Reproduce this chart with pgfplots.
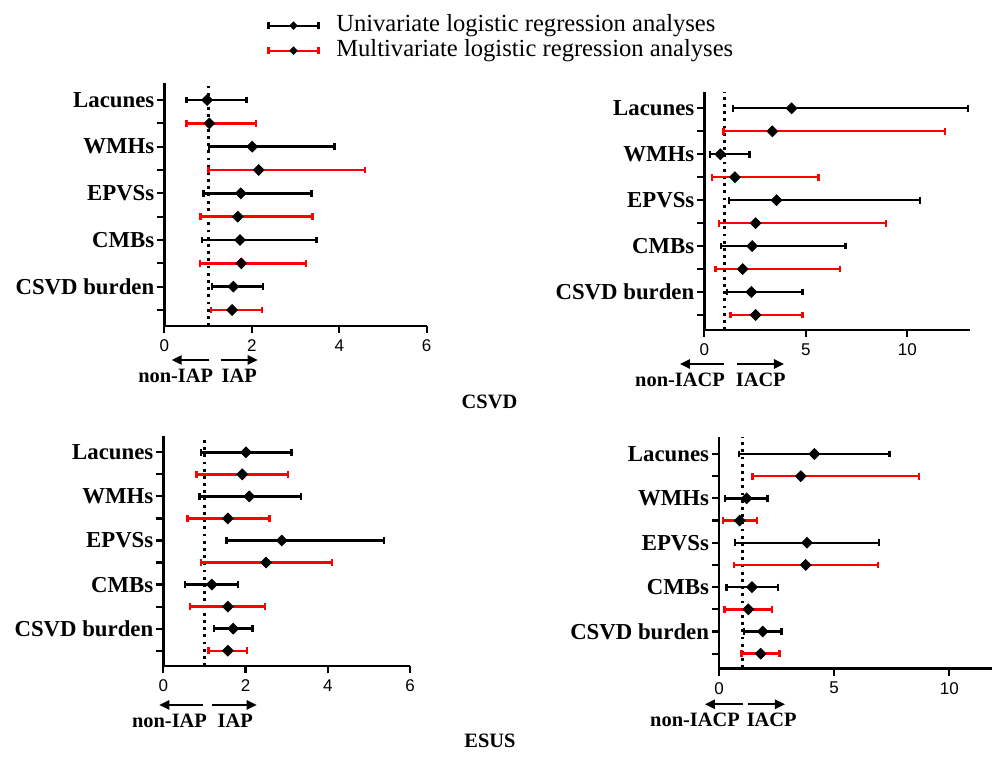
\documentclass[border=0pt]{standalone}
\usepackage{fontspec}
\setmainfont{Liberation Serif}
\setsansfont{Liberation Sans}
\usepackage{pgfplots}
\pgfplotsset{compat=1.18}
\usepackage{pgfplotstable}
\usetikzlibrary{arrows.meta}

% y: 10 = Lacunes (univariate) ... 1 = CSVD burden (multivariate)
% or = odds ratio, lo/hi = 95% CI
\pgfplotstableread{
y  or   lo   hi
10 0.98 0.51 1.88
8  2.01 1.02 3.89
6  1.75 0.90 3.37
4  1.73 0.86 3.48
2  1.58 1.09 2.25
}\csvdIapUni
\pgfplotstableread{
y  or   lo   hi
9  1.03 0.51 2.09
7  2.16 1.01 4.59
5  1.68 0.83 3.39
3  1.76 0.81 3.24
1  1.55 1.07 2.24
}\csvdIapMulti
\pgfplotstableread{
y  or   lo   hi
10 4.30 1.40 13.00
8  0.79 0.28 2.22
6  3.56 1.22 10.62
4  2.36 0.82 6.95
2  2.32 1.12 4.84
}\csvdIacpUni
\pgfplotstableread{
y  or   lo   hi
9  3.35 0.94 11.86
7  1.51 0.39 5.63
5  2.53 0.71 8.95
3  1.89 0.56 6.68
1  2.53 1.30 4.84
}\csvdIacpMulti
\pgfplotstableread{
y  or   lo   hi
10 2.01 0.91 3.12
8  2.09 0.88 3.35
6  2.88 1.54 5.37
4  1.18 0.53 1.82
2  1.70 1.23 2.17
}\esusIapUni
\pgfplotstableread{
y  or   lo   hi
9  1.92 0.81 3.04
7  1.57 0.59 2.58
5  2.50 0.92 4.10
3  1.57 0.65 2.47
1  1.57 1.10 2.04
}\esusIapMulti
\pgfplotstableread{
y  or   lo   hi
10 4.14 0.87 7.40
8  1.20 0.27 2.10
6  3.82 0.69 6.95
4  1.43 0.32 2.56
2  1.90 1.09 2.72
}\esusIacpUni
\pgfplotstableread{
y  or   lo   hi
9  3.55 1.45 8.68
7  0.90 0.17 1.65
5  3.76 0.64 6.89
3  1.27 0.23 2.29
1  1.81 0.97 2.62
}\esusIacpMulti

\tikzset{
  uni/.style={black, only marks, mark=square*, mark size=1.9bp,
    mark options={rotate=45, fill=black, draw=black}},
  multi/.style={red, only marks, mark=square*, mark size=1.9bp,
    mark options={rotate=45, fill=black, draw=black}},
  refline/.style={black, line width=1.5bp, dash pattern=on 1.4bp off 2.2bp},
  arr/.style={line width=1bp, -{Triangle[length=5bp, width=4.6bp]}},
  lbl/.style={font=\bfseries\fontsize{10.2bp}{12bp}\selectfont, inner sep=0pt, anchor=base},
}

\pgfplotsset{
  table/ci/.style={x=or, y=y,
    x error plus expr=\thisrow{hi}-\thisrow{or},
    x error minus expr=\thisrow{or}-\thisrow{lo}},
  forest/.style={
    scale only axis, clip=false,
    axis lines=left, axis line style={-, line width=1.3bp},
    tick align=outside, major tick length=3.6bp,
    tick style={line width=1.1bp, black},
    ytick={1,...,10},
    yticklabels={,CSVD burden,,CMBs,,EPVSs,,WMHs,,Lacunes},
    yticklabel style={font=\bfseries\fontsize{11.4bp}{13bp}\selectfont, inner sep=1.2bp},
    xticklabel style={font=\sffamily\fontsize{8.5bp}{10bp}\selectfont, inner sep=3.2bp},
    /pgf/number format/assume math mode=true,
    xmin=0,
    error bars/x dir=both,
    error bars/x explicit,
    error bars/error mark=|,
    error bars/error bar style={line width=1.2bp},
    error bars/error mark options={line width=1.2bp, mark size=1.7bp},
  },
}

\begin{document}
\begin{tikzpicture}
\path[use as bounding box] (0,0) rectangle (496bp,382bp);

% CSVD, IAP
\begin{axis}[forest,
  at={(82.15bp,219bp)}, anchor=south west,
  width=131.2bp, height=121.5bp,
  xmax=6, ymin=0.314, ymax=10.73, xtick={0,2,4,6},
  legend style={draw=none, fill=none, at={(0.3925,1.281)}, anchor=north west,
    inner sep=0pt, outer sep=0pt, column sep=8.3bp, row sep=1.5bp,
    font=\fontsize{12.3bp}{14bp}\selectfont,
    nodes={inner sep=0pt, text height=8.5bp, text depth=2.5bp}},
  legend cell align=left,
  legend image code/.code={
    \draw[#1, sharp plot, mark=none, line width=1.2bp] (0bp,0bp) -- (25bp,0bp)
      (0bp,-1.7bp) -- (0bp,1.7bp) (25bp,-1.7bp) -- (25bp,1.7bp);
    \draw[#1, sharp plot, mark repeat=2, mark phase=2, mark size=1.3bp]
      plot coordinates {(0bp,0bp) (12.5bp,0bp) (25bp,0bp)};
  },
]
\draw[refline] ({axis cs:1,1}|-{rel axis cs:0,0}) -- ({axis cs:1,1}|-{rel axis cs:0,1});
\addplot[uni] table[ci] {\csvdIapUni};
\addlegendentry{Univariate logistic regression analyses}
\addplot[multi] table[ci] {\csvdIapMulti};
\addlegendentry{Multivariate logistic regression analyses}
\end{axis}

% CSVD, IACP
\begin{axis}[forest,
  at={(352.15bp,217bp)}, anchor=south west,
  width=132.85bp, height=119.15bp,
  xmax=13.09, ymin=0.347, ymax=10.723, xtick={0,5,10},
  yticklabels={,CSVD burden\hspace{3.2bp},,CMBs,,EPVSs,,WMHs,,Lacunes},
]
\draw[refline] ({axis cs:1,1}|-{rel axis cs:0,0}) -- ({axis cs:1,1}|-{rel axis cs:0,1});
\addplot[uni] table[ci] {\csvdIacpUni};
\addplot[multi] table[ci] {\csvdIacpMulti};
\end{axis}

% ESUS, IAP
\begin{axis}[forest,
  at={(81.65bp,49bp)}, anchor=south west,
  width=123.35bp, height=115bp,
  xmax=6, ymin=0.306, ymax=10.74, xtick={0,2,4,6},
]
\draw[refline] ({axis cs:1,1}|-{rel axis cs:0,0}) -- ({axis cs:1,1}|-{rel axis cs:0,1});
\addplot[uni] table[ci] {\esusIapUni};
\addplot[multi] table[ci] {\esusIapMulti};
\end{axis}

% ESUS, IACP
\begin{axis}[forest,
  at={(359.5bp,47.85bp)}, anchor=south west,
  width=136.5bp, height=115.5bp,
  xmax=11.85, ymin=0.342, ymax=10.752, xtick={0,5,10},
]
\draw[refline] ({axis cs:1,1}|-{rel axis cs:0,0}) -- ({axis cs:1,1}|-{rel axis cs:0,1});
\addplot[uni] table[ci] {\esusIacpUni};
\addplot[multi] table[ci] {\esusIacpMulti};
\end{axis}

% direction arrows and group titles (pixel grid of the reference)
\begin{scope}[x=0.5bp, y=-0.5bp, yshift=382bp]
  \draw[arr] (209.3,360) -- (171.7,360);
  \draw[arr] (220.7,360) -- (257.7,360);
  \node[lbl] at (175.7,382.7) {non-IAP};
  \node[lbl] at (239.2,382.7) {IAP};

  \draw[arr] (724.3,364) -- (680,364);
  \draw[arr] (736.7,364) -- (784,364);
  \node[lbl] at (680,386.7) {non-IACP};
  \node[lbl] at (760.8,386.7) {IACP};

  \draw[arr] (203.3,705) -- (159.3,705);
  \draw[arr] (212,705) -- (256.7,705);
  \node[lbl] at (169.5,727.3) {non-IAP};
  \node[lbl] at (235.3,727.3) {IAP};

  \draw[arr] (743.3,704.3) -- (705,704.3);
  \draw[arr] (747.7,704.3) -- (785,704.3);
  \node[lbl] at (695,726.7) {non-IACP};
  \node[lbl] at (771.7,726.7) {IACP};

  \node[lbl] at (489.5,409) {CSVD};
  \node[lbl] at (490,748) {ESUS};
\end{scope}
\end{tikzpicture}
\end{document}
